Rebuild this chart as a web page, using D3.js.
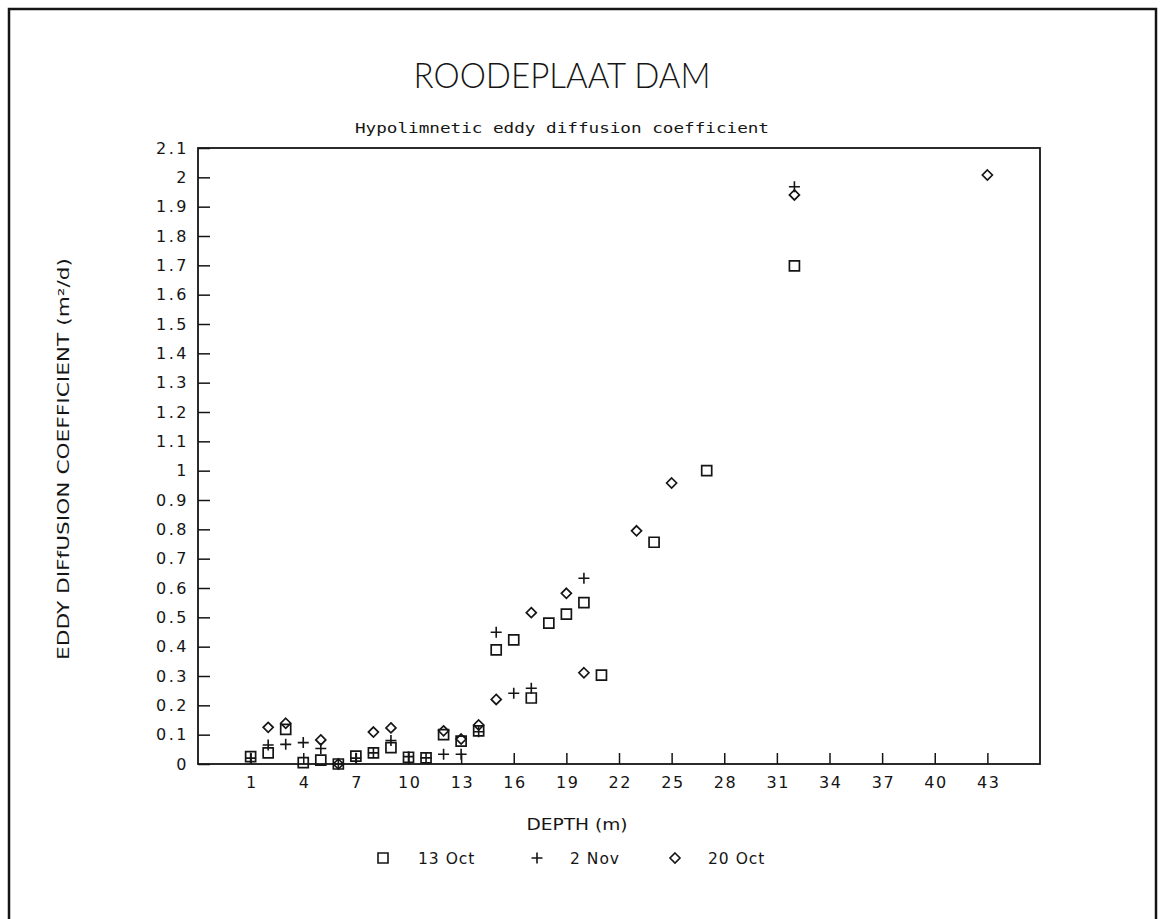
<!DOCTYPE html>
<html>
<head>
<meta charset="utf-8">
<script src="https://cdn.jsdelivr.net/npm/d3@7"></script>
<style>
  html, body { margin: 0; padding: 0; background: #fff; }
  svg { display: block; }
</style>
</head>
<body>
<svg id="chart" width="1160" height="919"></svg>
<script>
// ---------- data ----------
const seriesNames = ["13 Oct", "2 Nov", "20 Oct"];

const oct13Depth = [1, 2, 3, 4, 5, 6, 7, 8, 9, 10, 11, 12, 13, 14, 15, 16, 17, 18, 19, 20, 21, 24, 27, 32];
const oct13Value = [0.025, 0.038, 0.118, 0.005, 0.013, 0.0, 0.027, 0.038, 0.056, 0.023, 0.021, 0.100, 0.078, 0.113, 0.389, 0.423, 0.225, 0.480, 0.511, 0.550, 0.303, 0.756, 1.000, 1.698];

const nov2Depth = [1, 2, 3, 4, 5, 6, 7, 8, 9, 10, 11, 12, 13, 14, 15, 16, 17, 20, 32];
const nov2Value = [0.020, 0.065, 0.067, 0.073, 0.053, 0.0, 0.020, 0.038, 0.080, 0.025, 0.021, 0.033, 0.033, 0.110, 0.449, 0.241, 0.258, 0.633, 1.968];

const oct20Depth = [2, 3, 5, 6, 8, 9, 12, 13, 14, 15, 17, 19, 20, 23, 25, 32, 43];
const oct20Value = [0.125, 0.139, 0.082, 0.0, 0.109, 0.123, 0.113, 0.085, 0.133, 0.220, 0.516, 0.582, 0.311, 0.795, 0.958, 1.940, 2.008];

const xTickValues = [1, 4, 7, 10, 13, 16, 19, 22, 25, 28, 31, 34, 37, 40, 43];
const yTickValues = [0, 0.1, 0.2, 0.3, 0.4, 0.5, 0.6, 0.7, 0.8, 0.9, 1, 1.1, 1.2, 1.3, 1.4, 1.5, 1.6, 1.7, 1.8, 1.9, 2, 2.1];
const yTickLabels = ["0", "0.1", "0.2", "0.3", "0.4", "0.5", "0.6", "0.7", "0.8", "0.9", "1", "1.1", "1.2", "1.3", "1.4", "1.5", "1.6", "1.7", "1.8", "1.9", "2", "2.1"];

const titleText = "ROODEPLAAT DAM";
const subtitleText = "Hypolimnetic eddy diffusion coefficient";
const xTitleText = "DEPTH (m)";
const yTitleText = "EDDY DIFfUSION COEFFICIENT (m²/d)";

// ---------- layout ----------
const ink = "#151515";
const svg = d3.select("#chart");
const plot = { left: 198, right: 1040, top: 148, bottom: 764 };

const x = d3.scaleLinear().domain([-2, 46]).range([plot.left, plot.right]);
const y = d3.scaleLinear().domain([0, 2.1]).range([plot.bottom, plot.top]);

// page border
svg.append("rect")
  .attr("x", 9).attr("y", 9).attr("width", 1147).attr("height", 940)
  .attr("fill", "none").attr("stroke", ink).attr("stroke-width", 2.5);

// titles
svg.append("text")
  .attr("x", 562).attr("y", 88)
  .attr("text-anchor", "middle")
  .attr("font-family", "Lato, 'DejaVu Sans', sans-serif")
  .attr("font-weight", 300)
  .attr("font-size", 36)
  .attr("textLength", 297).attr("lengthAdjust", "spacingAndGlyphs")
  .attr("fill", ink)
  .text(titleText);

svg.append("text")
  .attr("x", 562).attr("y", 133)
  .attr("text-anchor", "middle")
  .attr("font-family", "'DejaVu Sans Mono', monospace")
  .attr("font-size", 14)
  .attr("textLength", 414).attr("lengthAdjust", "spacingAndGlyphs")
  .attr("fill", ink)
  .text(subtitleText);

// plot frame
svg.append("rect")
  .attr("x", plot.left).attr("y", plot.top)
  .attr("width", plot.right - plot.left).attr("height", plot.bottom - plot.top)
  .attr("fill", "none").attr("stroke", ink).attr("stroke-width", 1.8);

// x axis
const xAxis = d3.axisBottom(x)
  .tickValues(xTickValues)
  .tickFormat(d3.format("d"))
  .tickSizeInner(-11).tickSizeOuter(0).tickPadding(13);
const gx = svg.append("g").attr("transform", `translate(0,${plot.bottom})`).call(xAxis);
gx.select(".domain").remove();
gx.selectAll(".tick line").attr("stroke", ink).attr("stroke-width", 1.5);
gx.selectAll(".tick text")
  .attr("fill", ink)
  .attr("font-family", "'DejaVu Sans', sans-serif")
  .attr("font-size", 16)
  .attr("letter-spacing", "1.5px")
  .attr("dx", "0.75px");

// y axis
const yAxis = d3.axisLeft(y)
  .tickValues(yTickValues)
  .tickFormat((d, i) => yTickLabels[i])
  .tickSizeInner(-12).tickSizeOuter(0).tickPadding(9);
const gy = svg.append("g").attr("transform", `translate(${plot.left},0)`).call(yAxis);
gy.select(".domain").remove();
gy.selectAll(".tick line").attr("stroke", ink).attr("stroke-width", 1.5);
gy.selectAll(".tick text")
  .attr("fill", ink)
  .attr("font-family", "'DejaVu Sans', sans-serif")
  .attr("font-size", 16)
  .attr("letter-spacing", "2.5px");

// axis titles
svg.append("text")
  .attr("x", 577).attr("y", 830)
  .attr("text-anchor", "middle")
  .attr("font-family", "'DejaVu Sans', sans-serif")
  .attr("font-size", 16)
  .attr("textLength", 101).attr("lengthAdjust", "spacingAndGlyphs")
  .attr("fill", ink)
  .text(xTitleText);

svg.append("text")
  .attr("transform", "translate(69,459) rotate(-90)")
  .attr("text-anchor", "middle")
  .attr("font-family", "'DejaVu Sans', sans-serif")
  .attr("font-size", 16)
  .attr("textLength", 402).attr("lengthAdjust", "spacingAndGlyphs")
  .attr("fill", ink)
  .text(yTitleText);

// marker shapes
const squarePath = "M-5,-5H5V5H-5Z";
const plusPath = "M-5.5,0H5.5M0,-5.5V5.5";
const diamondPath = "M0,-5L5,0L0,5L-5,0Z";

function drawSeries(depths, values, path, width) {
  svg.append("g").selectAll("path")
    .data(depths.map((d, i) => [d, values[i]]))
    .join("path")
    .attr("d", path)
    .attr("transform", d => `translate(${x(d[0])},${y(d[1])})`)
    .attr("fill", "none").attr("stroke", ink).attr("stroke-width", width);
}
drawSeries(oct13Depth, oct13Value, squarePath, 1.7);
drawSeries(nov2Depth, nov2Value, plusPath, 1.6);
drawSeries(oct20Depth, oct20Value, diamondPath, 1.7);

// legend
const legendItems = [
  { name: seriesNames[0], path: squarePath, mx: 383, tx: 418 },
  { name: seriesNames[1], path: plusPath, mx: 537, tx: 570 },
  { name: seriesNames[2], path: diamondPath, mx: 675, tx: 708 }
];
const lg = svg.append("g");
legendItems.forEach(it => {
  lg.append("path").attr("d", it.path)
    .attr("transform", `translate(${it.mx},858)`)
    .attr("fill", "none").attr("stroke", ink).attr("stroke-width", 1.6);
  lg.append("text")
    .attr("x", it.tx).attr("y", 864)
    .attr("font-family", "'DejaVu Sans', sans-serif")
    .attr("font-size", 15.5)
    .attr("letter-spacing", "1px")
    .attr("fill", ink)
    .text(it.name);
});
</script>
</body>
</html>
